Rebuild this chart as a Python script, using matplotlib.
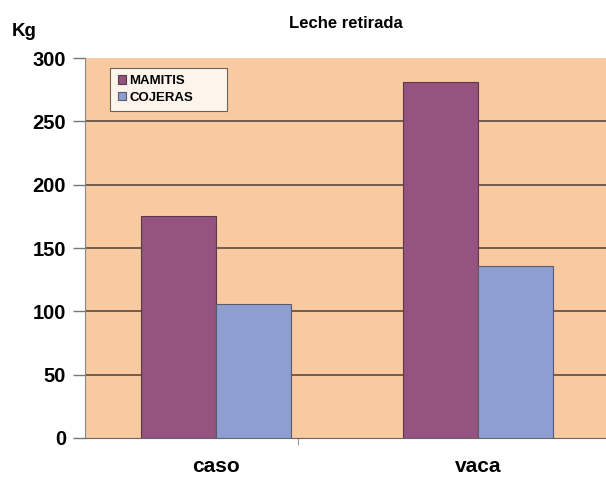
import numpy as np
import matplotlib
matplotlib.use("Agg")
import matplotlib.pyplot as plt

categories = ["caso", "vaca"]
mamitis = [175, 281]
cojeras = [106, 136]
series_names = ["MAMITIS", "COJERAS"]
yticks = [0, 50, 100, 150, 200, 250, 300]

plt.rcParams["font.family"] = ["Liberation Sans", "DejaVu Sans"]
plt.rcParams["font.weight"] = "bold"

fig = plt.figure(figsize=(6.06, 4.79), dpi=100)
ax = fig.add_axes([0.141, 0.0856, 0.859, 0.793])
ax.set_facecolor("#F9C9A0")

x = np.arange(len(categories))
w = 0.286
ax.bar(x, mamitis, w, align="edge", color="#955380", edgecolor="#5a3a4a",
       linewidth=0.8, label=series_names[0], zorder=3)
ax.bar(x + w, cojeras, w, align="edge", color="#8E9ED0", edgecolor="#5a5a6a",
       linewidth=0.8, label=series_names[1], zorder=3)

ax.set_xlim(-0.21, 1.775)
ax.set_ylim(0, 300)
ax.set_yticks(yticks)
ax.set_yticklabels([str(v) for v in yticks], fontsize=14.5, fontweight="bold")
for v in yticks[1:-1]:
    ax.axhline(v, color="#5a4a40", linewidth=1.2, zorder=1)

ax.set_xticks(x + w)
ax.set_xticklabels(categories, fontsize=15, fontweight="bold")
ax.set_xticks([0.6], minor=True)
ax.tick_params(axis="x", which="major", length=0, pad=14)
ax.tick_params(axis="x", which="minor", length=5, width=0.8, color="#999999")
ax.tick_params(axis="y", length=9, width=1, color="#777777", pad=5)

for side in ["top", "right"]:
    ax.spines[side].set_visible(False)
ax.spines["left"].set_color("#888888")
ax.spines["bottom"].set_color("#666666")

ax.set_title("Leche retirada", fontsize=12, fontweight="bold", pad=22)
fig.text(0.02, 0.925, "Kg", fontsize=13.5, fontweight="bold")

# legend box stretched to the width seen in the original
leg = ax.legend(loc="upper left", bbox_to_anchor=(0.048, 0.974, 0.2245, 0.0),
                mode="expand", fontsize=9.5,
                frameon=True, fancybox=False, edgecolor="#444444",
                handlelength=0.6, handleheight=0.6, handletextpad=0.3,
                borderpad=0.55, labelspacing=0.35, borderaxespad=0)
leg.get_frame().set_facecolor("white")
leg.get_frame().set_linewidth(0.8)
for t in leg.get_texts():
    t.set_fontweight("bold")

fig.savefig("out.png", dpi=100)
